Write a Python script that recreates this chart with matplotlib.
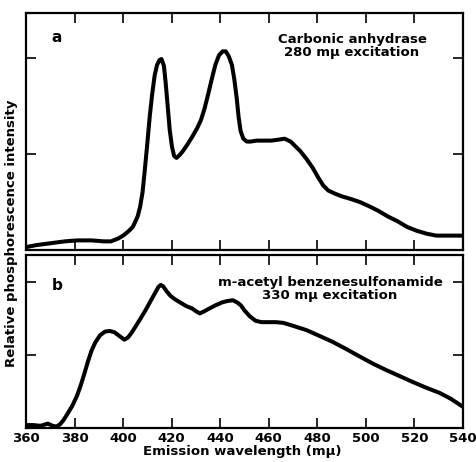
import matplotlib
matplotlib.use("Agg")
import matplotlib.pyplot as plt

# ---- data ----
wl_a = [360, 364, 370, 376, 381, 387, 392, 395, 398, 400, 402, 404, 406, 407, 408, 409,
        410, 411, 412, 413, 414, 415, 415.8, 416.8, 417.5, 418.3, 419.2, 420.1, 421, 422,
        423.3, 424.6, 426.5, 428.7, 430.5, 432, 433.5, 435, 436.5, 438, 439.5, 441, 442.3,
        443.5, 444.8, 445.8, 446.8, 447.6, 448.4, 449.5, 451, 452.5, 455, 458, 461, 464,
        466.5, 469, 471, 473, 475.5, 478, 480.5, 482.5, 484.5, 487, 490, 494, 497.5, 501,
        505, 509, 513, 517, 521, 525, 529, 533, 537, 540]
int_a = [0.03, 0.05, 0.07, 0.09, 0.10, 0.10, 0.09, 0.09, 0.12, 0.15, 0.19, 0.24, 0.35, 0.45,
         0.60, 0.85, 1.12, 1.40, 1.63, 1.82, 1.93, 1.98, 1.99, 1.92, 1.75, 1.52, 1.25, 1.08,
         0.98, 0.96, 0.99, 1.03, 1.10, 1.19, 1.27, 1.35, 1.47, 1.62, 1.78, 1.93, 2.03, 2.07,
         2.07, 2.02, 1.93, 1.78, 1.58, 1.38, 1.24, 1.16, 1.13, 1.13, 1.14, 1.14, 1.14, 1.15,
         1.16, 1.13, 1.08, 1.03, 0.95, 0.86, 0.75, 0.67, 0.62, 0.59, 0.56, 0.53, 0.50, 0.46,
         0.41, 0.35, 0.30, 0.24, 0.20, 0.17, 0.15, 0.15, 0.15, 0.15]

wl_b = [360, 363, 366, 369, 371, 372.5, 374, 375.5, 377, 379, 381, 382.5, 384, 385.5, 387,
        388.5, 390.5, 392.5, 394.5, 396.5, 398.5, 400.5, 402, 403.6, 405.5, 407, 409, 411,
        413, 414.5, 415.5, 416.5, 418, 419.5, 421.5, 424, 426, 428.3, 430, 431.6, 433.5,
        435.7, 438, 440.7, 443, 445.2, 447, 448.5, 450, 452.2, 454.5, 457, 460, 463, 466,
        470, 475.6, 481, 486.3, 492, 497.4, 503, 508.6, 514, 519.3, 525, 530.4, 535, 540]
int_b = [0.04, 0.04, 0.03, 0.06, 0.03, 0.02, 0.05, 0.11, 0.19, 0.30, 0.44, 0.58, 0.74, 0.91,
         1.06, 1.17, 1.27, 1.32, 1.33, 1.31, 1.26, 1.21, 1.24, 1.31, 1.41, 1.49, 1.60, 1.72,
         1.84, 1.93, 1.96, 1.94, 1.87, 1.81, 1.76, 1.71, 1.67, 1.64, 1.60, 1.57, 1.60, 1.64,
         1.68, 1.72, 1.74, 1.75, 1.72, 1.68, 1.61, 1.53, 1.47, 1.45, 1.45, 1.45, 1.44, 1.40,
         1.34, 1.26, 1.18, 1.08, 0.98, 0.88, 0.79, 0.71, 0.63, 0.55, 0.48, 0.40, 0.29]

x_ticks = [360, 380, 400, 420, 440, 460, 480, 500, 520, 540]
x_inner_ticks = [380, 400, 420, 440, 460, 480, 500, 520]
y_ticks = [1, 2]

label_a = "a"
label_b = "b"
title_a = "Carbonic anhydrase\n280 mμ excitation"
title_b = "m-acetyl benzenesulfonamide\n330 mμ excitation"
xlabel = "Emission wavelength (mμ)"
ylabel = "Relative phosphorescence intensity"

# ---- figure ----
W, H = 477, 462
fig = plt.figure(figsize=(W / 100, H / 100), dpi=100)
plt.rcParams['font.family'] = ['DejaVu Sans']

def px_rect(l, t, r, b):
    return [l / W, 1 - b / H, (r - l) / W, (b - t) / H]

ax_a = fig.add_axes(px_rect(26, 13, 463, 250))
ax_b = fig.add_axes(px_rect(26, 255, 463, 428))

for ax in (ax_a, ax_b):
    for s in ax.spines.values():
        s.set_linewidth(1.6)
        s.set_color('black')
    ax.set_xlim(360, 540)
    ax.set_xticks(x_inner_ticks)
    ax.set_yticks(y_ticks)
    ax.tick_params(axis='both', direction='in', length=7, width=1.2,
                   top=True, right=True, bottom=True, left=True,
                   labelbottom=False, labelleft=False)

ax_a.plot(wl_a, int_a, color='black', lw=2.9, solid_joinstyle='round',
          solid_capstyle='butt')
ax_a.set_ylim(0, 2.47)
ax_b.plot(wl_b, int_b, color='black', lw=2.9, solid_joinstyle='round',
          solid_capstyle='butt')
ax_b.set_ylim(0, 2.37)

ax_b.set_xticks(x_ticks)
ax_b.tick_params(axis='x', labelbottom=True, labelsize=9.5, pad=3)
for t in ax_b.get_xticklabels():
    t.set_fontweight('bold')
# hide edge ticks at 360 and 540
for tk in (ax_b.xaxis.get_major_ticks()[0], ax_b.xaxis.get_major_ticks()[-1]):
    tk.tick1line.set_visible(False)
    tk.tick2line.set_visible(False)

def ftext(x, y, s, **kw):
    fig.text(x / W, 1 - y / H, s, **kw)

ftext(57, 38, label_a, fontsize=11, fontweight='bold', ha='center', va='center')
ftext(57, 285, label_b, fontsize=11, fontweight='bold', ha='center', va='center')
ftext(352, 46, title_a, fontsize=9.5, fontweight='bold', ha='center', va='center',
      linespacing=1.05)
ftext(330, 289, title_b, fontsize=9.5, fontweight='bold', ha='center', va='center',
      linespacing=1.05)
ftext(242, 452, xlabel, fontsize=9.5, fontweight='bold', ha='center', va='center')
ftext(12, 233, ylabel, fontsize=9.5, fontweight='bold', ha='center', va='center',
      rotation=90)

fig.savefig("out.png", dpi=100)
